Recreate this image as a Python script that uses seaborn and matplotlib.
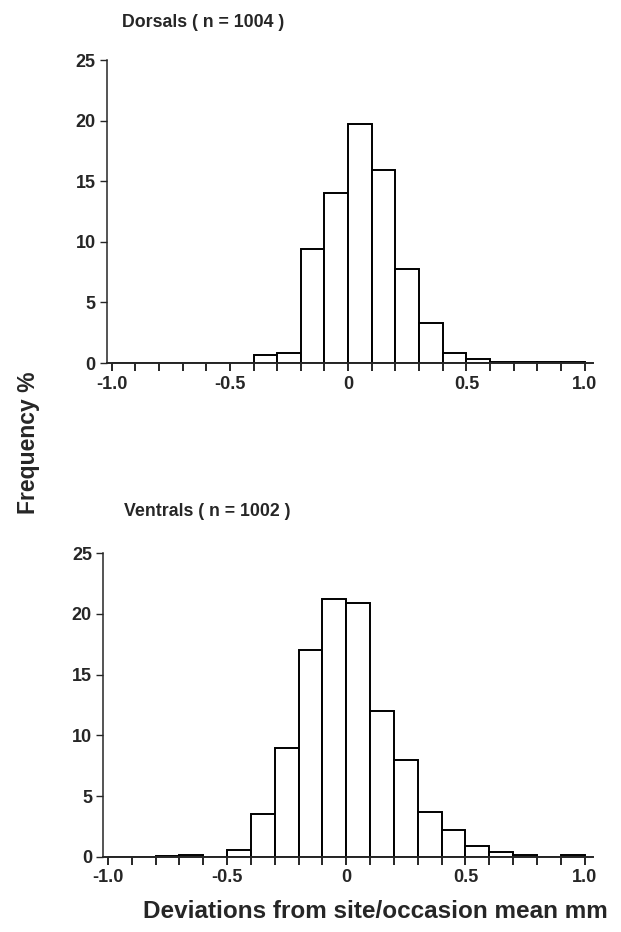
import numpy as np
import pandas as pd
import matplotlib
matplotlib.use('Agg')
import matplotlib.pyplot as plt
import seaborn as sns

# ============ 数据 ============
bin_edges = [round(-1.0 + 0.1 * i, 2) for i in range(21)]
bin_left = np.array(bin_edges[:-1])

# 背鳍 Dorsals (n = 1004)，各组频率 %
dorsal_freq = [0, 0, 0, 0, 0, 0, 0.7, 0.8, 9.4, 14.0,
               19.7, 15.9, 7.8, 3.3, 0.8, 0.35, 0.1, 0.1, 0.1, 0.1]
# 腹鳍 Ventrals (n = 1002)
ventral_freq = [0, 0, 0.1, 0.2, 0, 0.6, 3.5, 9.0, 17.0, 21.2,
                20.9, 12.0, 8.0, 3.7, 2.2, 0.9, 0.4, 0.15, 0, 0.15]

titles = ['Dorsals ( n = 1004 )', 'Ventrals ( n = 1002 )']
x_ticks = [-1.0, -0.5, 0, 0.5, 1.0]
x_ticklabels = ['-1.0', '-0.5', '0', '0.5', '1.0']
y_ticks = [0, 5, 10, 15, 20, 25]

sns.set_style('ticks')
plt.rcParams['font.family'] = ['Liberation Sans', 'DejaVu Sans']
plt.rcParams['font.weight'] = 'bold'

fig = plt.figure(figsize=(6.21, 9.32), dpi=100)
axes = [fig.add_axes([0.172, 0.6105, 0.783, 0.325]),
        fig.add_axes([0.166, 0.0805, 0.789, 0.326])]

for ax, freq, title in zip(axes, [dorsal_freq, ventral_freq], titles):
    df = pd.DataFrame({'x': bin_left + 0.05, 'w': freq})
    sns.histplot(data=df, x='x', weights='w', bins=bin_edges, stat='count',
                 color='white', edgecolor='black', linewidth=1.4, alpha=1,
                 ax=ax)
    ax.set_xlim(-1.02, 1.035)
    ax.set_ylim(0, 25)
    ax.set_xticks(bin_edges, minor=True)
    ax.set_xticks(x_ticks)
    ax.set_xticklabels(x_ticklabels)
    ax.set_yticks(y_ticks)
    ax.tick_params(axis='x', which='both', length=6, width=1.4, direction='out',
                   labelsize=13, pad=3)
    ax.tick_params(axis='y', length=5, width=1, labelsize=13, pad=3)
    for lab in ax.get_xticklabels() + ax.get_yticklabels():
        lab.set_fontweight('bold')
    ax.set_xlabel('')
    ax.set_ylabel('')
    sns.despine(ax=ax)
    ax.spines['left'].set_linewidth(1.1)
    ax.spines['bottom'].set_linewidth(1.4)

fig.text(0.196, 0.976, titles[0], fontsize=12.8, fontweight='bold', va='center')
fig.text(0.200, 0.451, titles[1], fontsize=12.8, fontweight='bold', va='center')
fig.text(0.046, 0.525, 'Frequency %', rotation=90, fontsize=16.5,
         fontweight='bold', va='center', ha='center')
fig.text(0.604, 0.0215, 'Deviations from site/occasion mean mm', fontsize=17.5,
         fontweight='bold', va='center', ha='center')

fig.savefig('out.png', dpi=100)
